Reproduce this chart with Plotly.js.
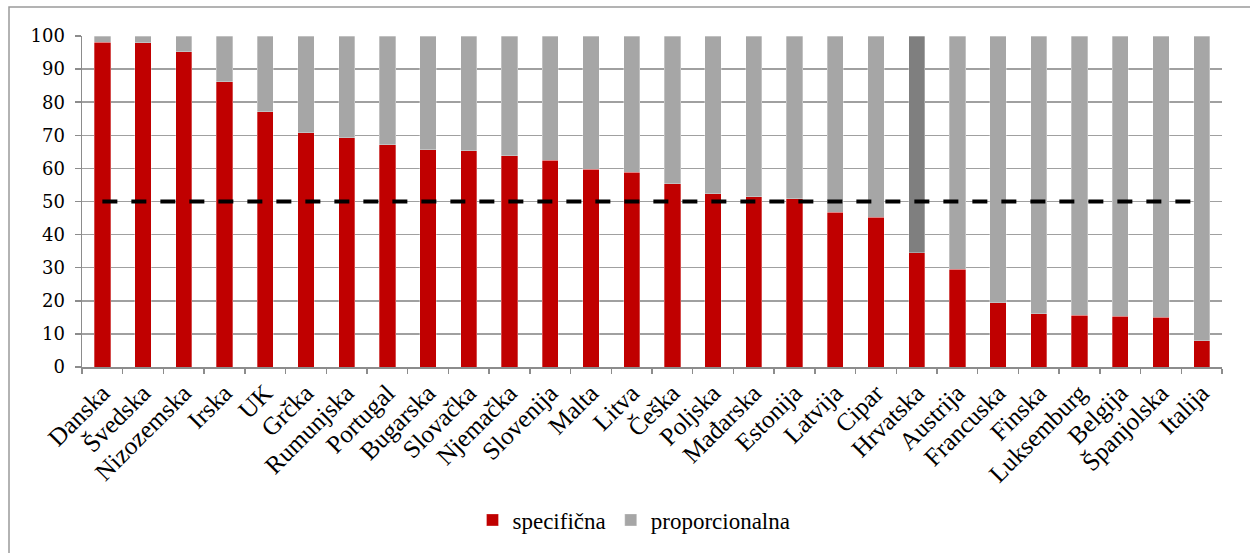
<!DOCTYPE html>
<html>
<head>
<meta charset="utf-8">
<script src="https://cdn.plot.ly/plotly-3.0.1.min.js"></script>
<style>html,body{margin:0;padding:0;background:#fff;}#chart{width:1250px;height:553px;}</style>
</head>
<body>
<div id="chart"></div>
<script>
const countries = ["Danska","Švedska","Nizozemska","Irska","UK","Grčka","Rumunjska","Portugal","Bugarska","Slovačka","Njemačka","Slovenija","Malta","Litva","Češka","Poljska","Mađarska","Estonija","Latvija","Cipar","Hrvatska","Austrija","Francuska","Finska","Luksemburg","Belgija","Španjolska","Italija"];
const specificna = [98.1,98.0,95.3,86.2,77.1,70.7,69.3,67.2,65.6,65.3,63.8,62.5,59.7,58.9,55.3,52.4,51.4,50.8,46.7,45.2,34.5,29.6,19.4,16.1,15.7,15.4,15.1,7.9];
const proporcionalna = specificna.map(v => +(100 - v).toFixed(1));
const threshold = countries.map(() => 50);
const yTicks = [0,10,20,30,40,50,60,70,80,90,100];

const W = 1250, H = 553;
const mL = 82, mR = 28, mT = 36, mB = 186;
const pw = W - mL - mR, ph = H - mT - mB;
const px = p => (p - mL) / pw;
const py = p => (H - mB - p) / ph;

const grayColors = countries.map(c => c === "Hrvatska" ? "#7f7f7f" : "#a6a6a6");
const SERIF = "'Liberation Serif', 'Times New Roman', serif";

const traces = [
  {type:"bar", name:"specifična", x:countries, y:specificna,
   marker:{color:"#c00000", line:{color:"rgba(255,255,255,0.6)", width:0.5}}},
  {type:"bar", name:"proporcionalna", x:countries, y:proporcionalna,
   marker:{color:grayColors, line:{color:"rgba(255,255,255,0.6)", width:0.5}}},
  {type:"scatter", mode:"lines", x:countries, y:threshold, showlegend:false,
   line:{color:"#000", width:4, dash:"15px,14px"}, hoverinfo:"skip"}
];

const layout = {
  width:W, height:H,
  margin:{l:mL, r:mR, t:mT, b:mB},
  barmode:"stack", bargap:0.6,
  paper_bgcolor:"#fff", plot_bgcolor:"#fff",
  font:{family:SERIF, color:"#000", size:18},
  xaxis:{type:"category", tickangle:-45, tickfont:{size:25, family:SERIF},
    showgrid:false, showline:true, linecolor:"#8c8c8c", linewidth:1.5,
    ticks:"outside", tickson:"boundaries", ticklen:5, tickcolor:"#8c8c8c", tickwidth:1.5},
  yaxis:{range:[0,100], tickvals:yTicks, ticktext:yTicks.map(String),
    tickfont:{size:18, family:"'DejaVu Serif', serif"}, ticklabelstandoff:6,
    showgrid:true, gridcolor:"#a0a0a0", gridwidth:1.5, zeroline:false,
    showline:true, linecolor:"#8c8c8c", linewidth:1.5,
    ticks:"outside", ticklen:6, tickcolor:"#8c8c8c", tickwidth:1.5},
  legend:{orientation:"h", x:px(634), xanchor:"center", y:py(520), yanchor:"middle",
    font:{size:23, family:SERIF}, itemwidth:30, traceorder:"normal"},
  shapes:[{type:"rect", xref:"paper", yref:"paper",
    x0:px(9), x1:px(1260), y0:py(560), y1:py(7),
    line:{color:"#9a9a9a", width:1.5}, fillcolor:"rgba(0,0,0,0)", layer:"below"}]
};

Plotly.newPlot("chart", traces, layout, {staticPlot:true, displayModeBar:false});
</script>
</body>
</html>
